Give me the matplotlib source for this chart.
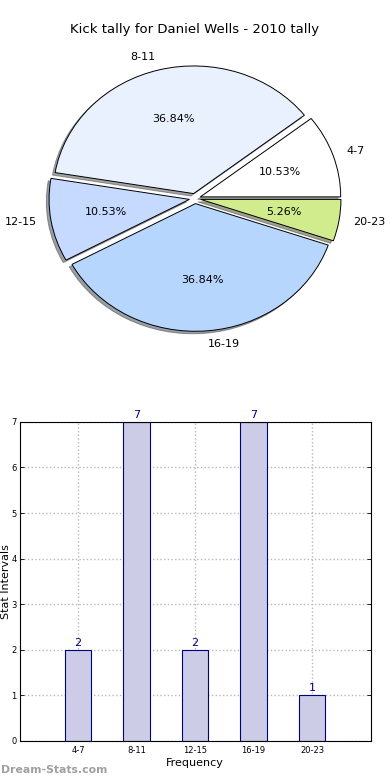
import numpy as np
import matplotlib.pyplot as plt

# Data
intervals = ['4-7', '8-11', '12-15', '16-19', '20-23']
kicks = [2, 7, 2, 7, 1]
pie_colors = ['#ffffff', '#eaf1fe', '#c6d9fe', '#b6d6fe', '#d0ec8c']
title = 'Kick tally for Daniel Wells - 2010 tally'

fig = plt.figure(figsize=(3.9, 7.8), dpi=100)
fig.subplots_adjust(left=0.05, right=0.95, bottom=0.05, top=0.95, hspace=0.2)

# Pie chart
ax1 = fig.add_subplot(2, 1, 1)
wedges, texts, autotexts = ax1.pie(
    kicks, labels=intervals, colors=pie_colors, explode=[0.04] * len(kicks),
    autopct='%1.2f%%', shadow={'ox': -0.014, 'oy': -0.014}, startangle=0,
    wedgeprops={'edgecolor': 'black', 'linewidth': 0.7},
    textprops={'fontsize': 8})
ax1.set_aspect('auto')
ax1.set_xlim(-1.25, 1.25)
ax1.set_ylim(-1.25, 1.25)
ax1.set_title(title, fontsize=9.5, pad=4)

# Bar chart
ax2 = fig.add_subplot(2, 1, 2)
x = np.arange(len(intervals))
bars = ax2.bar(x, kicks, width=0.45, color='#cccce6', edgecolor='#000080',
               linewidth=0.8, zorder=2)
for xi, v in zip(x, kicks):
    ax2.text(xi, v + 0.05, str(v), ha='center', va='bottom', fontsize=8,
             color='#000080')
ax2.set_xlim(-1, 5)
ax2.set_ylim(0, 7)
ax2.set_xticks(x)
ax2.set_xticklabels(intervals, fontsize=6)
ax2.set_yticks(range(8))
ax2.tick_params(axis='y', labelsize=6, pad=2)
ax2.tick_params(direction='in', right=True, length=3, width=0.6)
ax2.grid(True, color='#b8b8b8', linestyle=':', linewidth=1, zorder=0)
ax2.set_axisbelow(True)
ax2.set_xlabel('Frequency', fontsize=8, labelpad=2)
ax2.set_ylabel('Stat Intervals', fontsize=8, labelpad=0.5)

fig.text(0.002, 0.013, 'Dream-Stats.com', fontsize=7.8, color='#a0a0a0',
         fontweight='bold', ha='left', va='center')

fig.savefig('out.png', dpi=100)
